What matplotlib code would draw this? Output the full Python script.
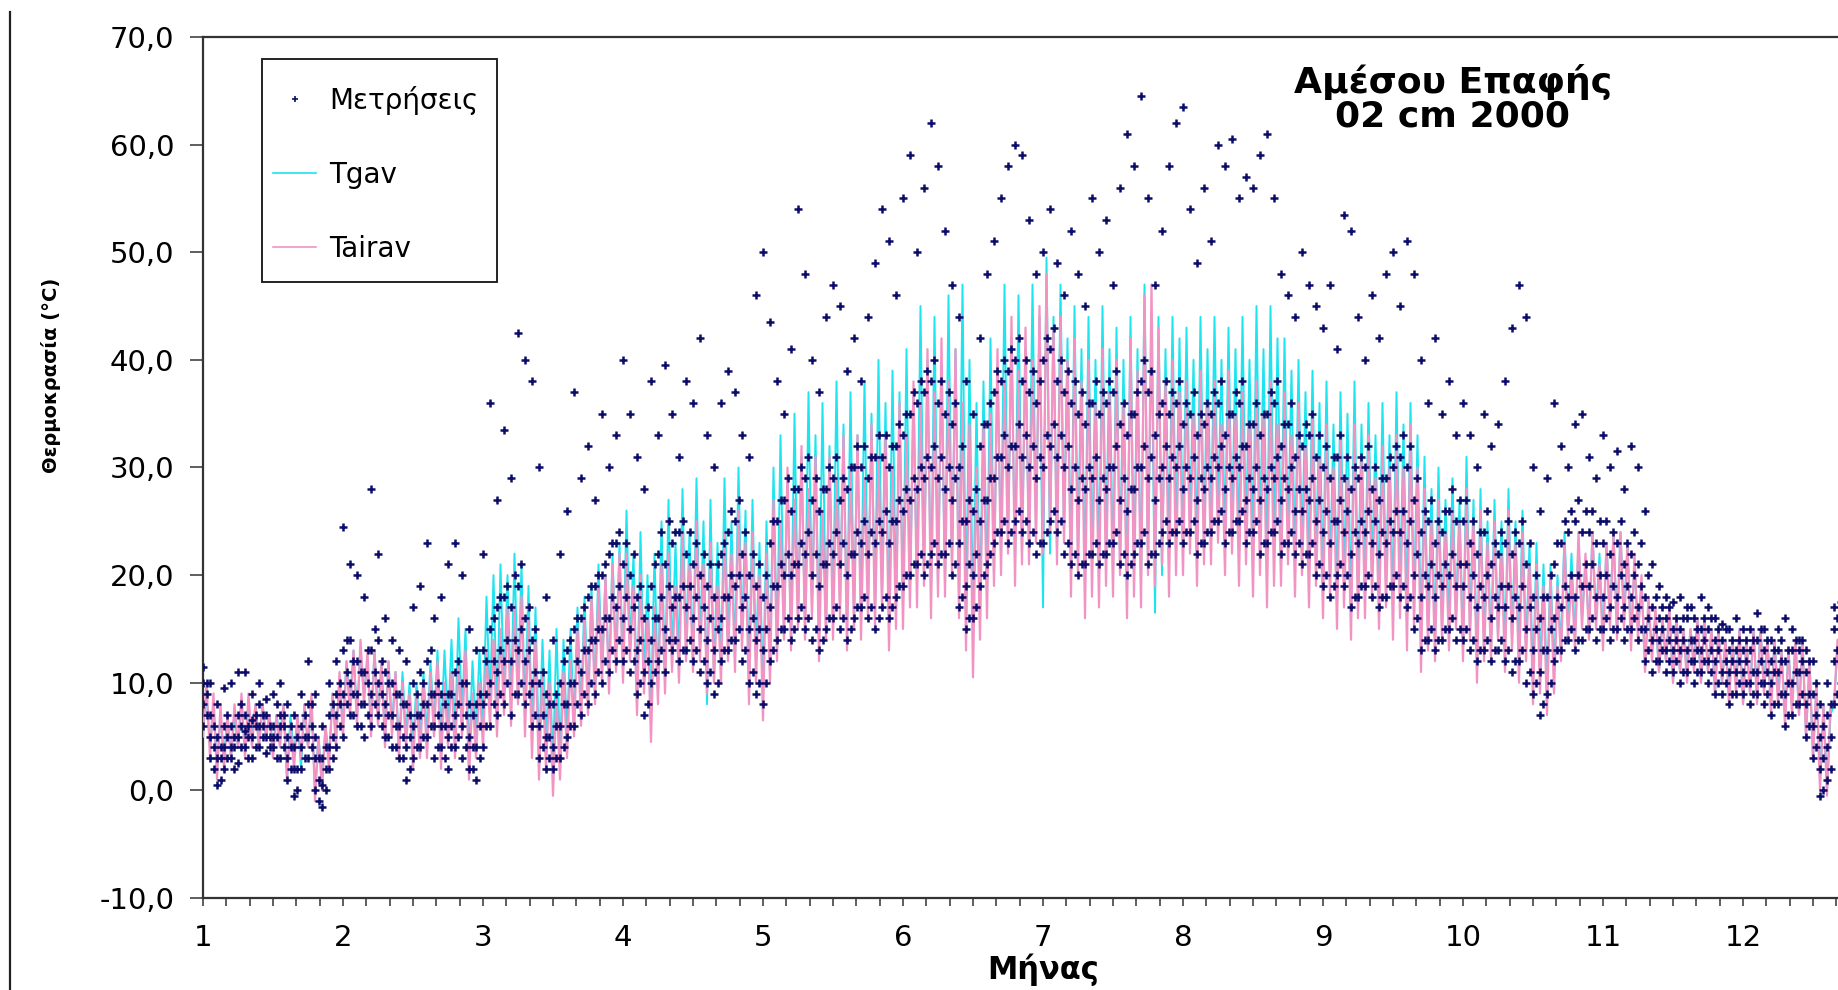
import numpy as np
import matplotlib.pyplot as plt
from matplotlib.ticker import MultipleLocator, FuncFormatter
from matplotlib.lines import Line2D
from matplotlib.patches import Rectangle

plt.rcParams['font.family'] = ['DejaVu Sans']

# ====== DATA ======
# Daily min / max, one pair every 0.05 month (1.00 ... 12.70)
tair_lo = [5, 3, 1, 2, 3, 4, 3, 4, 4, 5, 3, 4, 1, 2, 3, 4, -1, 0, 2, 4,
           5, 7, 6, 8, 5, 6, 4, 5, 3, 4, 2, 3, 3, 5, 2, 4, 3, 5, 1, 3,
           4, 6, 5, 7, 6, 8, 5, 3, 1, 2, -0.5, 1, 3, 5, 6, 7, 8, 10, 9, 11,
           10, 12, 7, 9, 4.5, 8, 9, 11, 10, 12, 11, 12, 9, 10, 10, 12, 11, 13, 8, 10,
           6.5, 10, 12, 14, 13, 15, 14, 16, 12, 14, 14, 16, 13, 15, 14, 16, 15, 17, 13, 15,
           15, 17, 17, 19, 16, 18, 18, 20, 16, 13, 10.5, 14, 16, 19, 20, 22, 19, 21, 21, 23,
           22, 24, 21, 23, 18, 20, 16, 18, 17, 19, 18, 20, 16, 18, 17, 20, 19, 21, 18, 20,
           20, 22, 19, 21, 21, 23, 20, 22, 19, 21, 18, 20, 17, 19, 19, 21, 18, 20, 17, 19,
           16, 18, 15, 17, 14, 16, 16, 18, 15, 17, 14, 16, 13, 15, 11, 13, 12, 14, 13, 15,
           12, 14, 10, 12, 12, 14, 11, 13, 10, 12, 8, 9, 7, 9, 12, 14, 13, 15, 14, 15,
           13, 15, 14, 15, 13, 14, 11, 12, 11, 12, 10, 11, 10, 11, 10, 11, 9, 10, 8, 9,
           8, 9, 8, 9, 7, 8, 6, 7, 7, 5, 3, 0, -0.5, 8, 11]
tair_hi = [10, 9, 8, 7, 8, 9, 9, 8, 8, 7, 7, 8, 6, 7, 8, 9, 5, 6, 9, 11,
           12, 13, 14, 13, 13, 12, 12, 11, 10, 9, 9, 10, 11, 12, 10, 11, 12, 13, 9, 10,
           13, 14, 15, 17, 17, 18, 16, 14, 11, 10, 9, 11, 12, 15, 16, 18, 19, 20, 21, 22,
           22, 19, 20, 16, 17, 21, 22, 19, 24, 21, 25, 21, 23, 19, 24, 22, 26, 23, 24, 20,
           22, 27, 25, 30, 27, 32, 28, 31, 26, 31, 29, 33, 30, 33, 29, 34, 31, 33, 30, 36,
           33, 38, 36, 41, 37, 42, 38, 41, 36, 34, 30, 34, 35, 41, 38, 44, 39, 43, 40, 45,
           48, 43, 44, 40, 42, 38, 40, 36, 41, 37, 40, 36, 42, 39, 46, 47, 43, 38, 40, 37,
           38, 35, 39, 36, 38, 34, 39, 35, 37, 34, 38, 35, 38, 34, 37, 33, 36, 32, 35, 31,
           34, 30, 33, 29, 34, 31, 33, 29, 32, 30, 33, 30, 34, 30, 28, 25, 27, 24, 26, 25,
           28, 25, 26, 23, 25, 22, 26, 23, 24, 21, 21, 19, 20, 19, 23, 20, 24, 22, 24, 21,
           23, 24, 24, 23, 22, 20, 18, 17, 16, 17, 16, 15, 15, 16, 16, 15, 15, 14, 14, 15,
           14, 15, 15, 14, 14, 13, 13, 14, 14, 12, 10, 8, 8, 14, 17]
tg_lo = [6, 4, 2, 3, 3, 4, 4, 5, 4, 5, 4, 5, 1, 3, 2, 4, 0, 1, 3, 5,
         6, 8, 7, 9, 6, 7, 5, 6, 4, 5, 4, 5, 5, 6, 5, 6, 5, 7, 3, 5,
         6, 8, 7, 9, 8, 9, 7, 5, 3, 4, 2, 3, 5, 6, 7, 8, 9, 11, 10, 12,
         11, 13, 8, 10, 7, 9, 10, 12, 12, 13, 12, 13, 8, 10, 11, 13, 12, 14, 10, 12,
         9, 11, 13, 15, 14, 16, 15, 17, 14, 15, 16, 17, 15, 16, 16, 17, 17, 18, 15, 17,
         17, 18, 19, 20, 18, 19, 19, 21, 18, 16, 15, 16, 18, 20, 22, 23, 21, 22, 22, 24,
         17, 22, 22, 24, 20, 22, 19, 21, 20, 22, 20, 21, 18, 20, 19, 21, 16.5, 20, 22, 23,
         23, 24, 22, 23, 24, 25, 23, 24, 22, 23, 22, 23, 21, 22, 22, 23, 21, 22, 20, 21,
         19, 20, 18, 19, 17, 18, 19, 20, 18, 19, 17, 18, 16, 17, 14, 15, 14, 15, 15, 16,
         13, 15, 11, 13, 13, 14, 13, 14, 12, 13, 10, 11, 9, 11, 13, 15, 14, 16, 15, 16,
         14, 16, 15, 16, 14, 15, 12, 13, 11, 12, 10, 11, 11, 12, 10, 11, 9, 10, 9, 10,
         8, 9, 9, 10, 8, 9, 7, 8, 7, 5, 3, 1, 0, 8, 11]
tg_hi = [9, 8, 7, 7, 7, 8, 8, 8, 8, 7, 7, 8, 7, 7, 8, 8, 5, 6, 9, 10,
         12, 13, 13, 12, 13, 12, 12, 11, 11, 10, 10, 11, 12, 13, 13, 14, 16, 15, 12, 13,
         18, 20, 21, 20, 22, 21, 19, 17, 14, 13, 15, 14, 15, 17, 18, 19, 21, 20, 22, 23,
         26, 22, 24, 20, 22, 25, 27, 23, 28, 24, 29, 25, 27, 23, 29, 25, 30, 26, 27, 23,
         25, 30, 33, 29, 35, 31, 37, 33, 36, 32, 38, 34, 37, 33, 38, 35, 40, 36, 39, 37,
         41, 37, 45, 40, 44, 39, 46, 41, 47, 40, 36, 38, 42, 39, 47, 42, 46, 41, 47, 44,
         49.5, 44, 47, 42, 45, 41, 44, 40, 45, 41, 43, 40, 44, 41, 47, 43, 44, 41, 44, 42,
         43, 40, 44, 41, 44, 40, 43, 41, 44, 40, 45, 41, 45, 42, 42, 39, 40, 37, 39, 36,
         38, 34, 37, 35, 38, 34, 36, 33, 36, 33, 37, 34, 36, 33, 31, 28, 30, 27, 29, 27,
         31, 27, 28, 25, 27, 25, 28, 25, 26, 23, 23, 21, 21, 20, 24, 22, 23, 21, 24, 22,
         23, 24, 24, 23, 21, 19, 17, 16, 16, 17, 16, 15, 15, 16, 16, 15, 15, 14, 14, 15,
         14, 15, 15, 14, 14, 13, 13, 14, 14, 12, 10, 8, 7, 13, 16]

# Measurements: one column of readings every 0.05 month (1.00 ... 12.70)
meas = [
    # month 1
    [6, 8, 10, 11.5], [3, 5, 7, 10], [0.5, 3, 5, 8], [2, 4, 6, 9.5], [3, 4, 6, 10],
    [2.5, 5, 7, 11], [4, 5.5, 7, 11], [3, 5, 6.5, 9], [4, 6, 8, 10], [3.5, 5, 7, 8.5],
    [4, 5, 6, 9], [3, 6, 7, 10], [1, 3, 5, 8], [-0.5, 2, 4, 7], [2, 4, 6, 9],
    [3, 5, 8, 12], [0, 3, 5, 9], [-1.5, 0.5, 3, 6], [2, 4, 7, 10], [4, 7, 9, 12],
    # month 2
    [5, 9, 13, 24.5], [7, 10, 14, 21], [6, 9, 12, 20], [5, 8, 11, 18], [6, 9, 13, 28],
    [7, 10, 14, 22], [5, 8, 11, 16], [4, 7, 10, 14], [3, 6, 9, 13], [1, 4, 8, 12],
    [3, 6, 10, 17], [4, 7, 11, 19], [5, 8, 12, 23], [3, 6, 9, 16], [4, 6, 9, 18],
    [2, 5, 9, 21], [4, 7, 11, 23], [3, 6, 10, 20], [2, 5, 8, 15], [1, 4, 8, 13],
    # month 3
    [4, 8, 13, 22], [6, 10, 15, 36], [7, 11, 17, 27], [8, 12, 18, 33.5], [7, 12, 17, 29],
    [9, 13, 19, 42.5], [8, 12, 16, 40], [6, 10, 14, 38], [3, 6, 10, 30], [2, 5, 9, 18],
    [2, 4, 8, 14], [3, 6, 10, 22], [5, 8, 13, 26], [6, 10, 15, 37], [7, 11, 16, 29],
    [8, 13, 18, 32], [9, 14, 19, 27], [10, 15, 20, 35], [11, 16, 22, 30], [12, 17, 23, 33],
    # month 4
    [12, 16, 21, 40], [11, 15, 20, 35], [9, 13, 18, 31], [7, 11, 16, 28], [10, 14, 19, 38],
    [12, 16, 22, 33], [11, 15, 21, 39.5], [13, 17, 23, 35], [12, 18, 24, 31], [13, 17, 22, 38],
    [12, 16, 21, 36], [11, 15, 20, 42], [10, 14, 19, 33], [9, 13, 18, 30], [12, 16, 22, 36],
    [13, 18, 24, 39], [14, 19, 25, 37], [12, 17, 22, 33], [10, 15, 20, 31], [9, 14, 19, 46],
    # month 5
    [8, 13, 18, 50], [12, 17, 23, 43.5], [14, 19, 25, 38], [15, 20, 27, 35], [14, 20, 26, 41],
    [16, 21, 28, 54], [15, 22, 29, 48], [14, 20, 27, 40], [13, 19, 26, 37], [15, 21, 28, 44],
    [16, 22, 29, 47], [15, 21, 27, 45], [14, 20, 28, 39], [16, 22, 30, 42], [17, 23, 30, 38],
    [16, 22, 29, 44], [15, 23, 31, 49], [17, 24, 31, 54], [16, 23, 30, 51], [18, 25, 32, 46],
    # month 6
    [19, 26, 33, 55], [20, 27, 35, 59], [21, 28, 36, 50], [20, 29, 37, 56], [22, 30, 38, 62],
    [21, 29, 36, 58], [22, 28, 35, 52], [20, 27, 34, 47], [17, 23, 30, 44], [15, 19, 25, 38],
    [16, 20, 26, 35], [19, 25, 32, 42], [21, 27, 34, 48], [23, 29, 37, 51], [24, 31, 38, 55],
    [23, 30, 39, 58], [25, 32, 40, 60], [24, 31, 38, 59], [23, 30, 37, 53], [22, 29, 36, 48],
    # month 7
    [23, 30, 40, 50], [25, 32, 41, 54], [24, 31, 38, 49], [22, 30, 37, 46], [21, 28, 36, 52],
    [20, 27, 35, 48], [21, 28, 34, 45], [22, 29, 36, 55], [21, 27, 35, 50], [22, 28, 36, 53],
    [23, 30, 37, 47], [21, 27, 34, 56], [20, 26, 33, 61], [22, 28, 35, 58], [23, 30, 38, 64.5],
    [21, 29, 37, 55], [22, 27, 33, 47], [24, 30, 36, 52], [23, 29, 35, 58], [24, 30, 36, 62],
    # month 8
    [23, 28, 34, 63.5], [24, 29, 35, 54], [22, 27, 33, 49], [23, 28, 34, 56], [24, 29, 35, 51],
    [25, 30, 36, 60], [23, 28, 33, 58], [24, 29, 35, 60.5], [25, 30, 36, 55], [23, 27, 32, 57],
    [24, 28, 34, 56], [22, 27, 33, 59], [23, 28, 35, 61], [24, 29, 36, 55], [22, 27, 32, 48],
    [23, 28, 34, 46], [22, 26, 31, 44], [21, 26, 32, 50], [22, 27, 33, 47], [20, 25, 31, 45],
    # month 9
    [19, 24, 30, 43], [18, 23, 29, 47], [20, 25, 31, 41], [19, 24, 29, 53.5], [17, 22, 28, 52],
    [18, 23, 29, 44], [19, 24, 30, 40], [18, 23, 28, 46], [17, 22, 27, 42], [18, 23, 29, 48],
    [19, 24, 30, 50], [18, 24, 31, 45], [17, 23, 30, 51], [15, 20, 27, 48], [13, 18, 24, 40],
    [14, 19, 25, 36], [13, 18, 23, 42], [14, 19, 24, 35], [15, 20, 26, 38], [14, 19, 25, 33],
    # month 10
    [14, 19, 25, 36], [13, 18, 23, 33], [12, 17, 22, 30], [13, 18, 24, 35], [12, 16, 21, 32],
    [13, 17, 22, 34], [12, 17, 23, 38], [11, 16, 22, 43], [12, 17, 23, 47], [10, 15, 21, 44],
    [9, 13, 18, 30], [7, 11, 16, 26], [9, 13, 18, 29], [12, 16, 21, 36], [13, 17, 23, 32],
    [14, 18, 24, 30], [13, 18, 25, 34], [14, 19, 24, 35], [15, 19, 24, 31], [14, 18, 23, 29],
    # month 11
    [15, 18, 23, 33], [14, 17, 22, 30], [15, 18, 23, 31.5], [14, 17, 21, 28], [15, 18, 22, 32],
    [14, 17, 21, 30], [12, 15, 18, 26], [11, 14, 17, 21], [12, 14, 16, 19], [11, 13, 16, 18],
    [11, 13, 15, 17.5], [10, 13, 15, 18], [11, 13, 16, 17], [10, 12, 14, 16], [11, 13, 15, 18],
    [10, 12, 15, 17], [9, 12, 14, 16], [9, 11, 14, 15.5], [8, 11, 13, 15], [9, 11, 13, 16],
    # month 12
    [9, 11, 13, 15], [8, 10, 13, 15], [9, 11, 14, 16.5], [8, 10, 13, 15], [7, 10, 12, 14],
    [8, 11, 13, 15], [6, 9, 12, 16], [7, 10, 13, 15], [8, 11, 13, 14], [5, 8, 11, 13],
    [3, 6, 9, 12], [-0.5, 2, 5, 8], [1, 4, 7, 10], [8, 12, 15, 17], [10, 13, 15, 17.5],
]

# Measurements taken half way between the columns above (1.025 ... 12.725)
meas_mid = [
    # month 1
    [7, 9, 10], [2, 4, 6], [1, 3, 4], [3, 5, 7], [2, 4, 5], [4, 6, 8], [3, 5, 6],
    [4, 6, 7], [5, 6, 7], [4, 5, 6], [3, 5, 8], [4, 6, 7], [2, 4, 6], [0, 2, 5],
    [3, 5, 7], [4, 6, 8], [-1, 1, 3], [0, 2, 4], [3, 5, 8], [6, 8, 10],
    # month 2
    [8, 11, 14], [7, 9, 12], [6, 8, 11], [7, 10, 13], [8, 11, 15], [6, 9, 12], [5, 7, 10],
    [4, 6, 9], [3, 5, 8], [2, 5, 7], [4, 7, 9], [5, 8, 10], [6, 9, 13], [4, 7, 10],
    [3, 6, 8], [4, 6, 9], [5, 8, 12], [4, 7, 10], [2, 4, 7], [3, 6, 9],
    # month 3
    [6, 9, 12], [8, 12, 16], [9, 13, 18], [10, 14, 19], [9, 14, 20], [10, 15, 21], [9, 13, 17],
    [7, 11, 15], [4, 7, 11], [3, 5, 8], [3, 6, 9], [4, 8, 12], [6, 10, 14], [8, 12, 16],
    [9, 13, 17], [10, 14, 19], [11, 15, 20], [12, 16, 21], [13, 18, 23], [14, 19, 24],
    # month 4
    [13, 18, 23], [12, 17, 22], [10, 14, 19], [8, 12, 17], [11, 16, 21], [13, 18, 24], [14, 19, 25],
    [14, 18, 24], [13, 19, 25], [14, 19, 24], [13, 18, 23], [12, 17, 22], [11, 16, 21], [10, 15, 21],
    [13, 18, 23], [14, 20, 26], [15, 20, 27], [13, 18, 24], [11, 16, 22], [10, 15, 21],
    # month 5
    [10, 15, 20], [13, 19, 25], [15, 21, 27], [16, 22, 29], [15, 21, 28], [17, 23, 30], [16, 24, 31],
    [15, 22, 29], [14, 21, 28], [16, 23, 30], [17, 24, 31], [16, 23, 29], [15, 22, 30], [17, 24, 32],
    [18, 25, 32], [17, 24, 31], [16, 25, 33], [18, 26, 33], [17, 25, 32], [19, 27, 34],
    # month 6
    [20, 28, 35], [21, 29, 37], [22, 30, 38], [21, 31, 39], [23, 32, 40], [22, 31, 38], [23, 30, 37],
    [21, 29, 36], [18, 25, 32], [16, 21, 27], [17, 22, 28], [20, 27, 34], [22, 29, 36], [24, 31, 39],
    [25, 33, 40], [24, 32, 41], [26, 34, 42], [25, 33, 40], [24, 32, 39], [23, 31, 38],
    # month 7
    [24, 33, 42], [26, 34, 43], [25, 33, 40], [23, 32, 39], [22, 30, 38], [21, 29, 37], [22, 30, 36],
    [23, 31, 38], [22, 29, 37], [23, 30, 38], [24, 32, 39], [22, 29, 36], [21, 28, 35], [23, 30, 37],
    [24, 32, 40], [22, 31, 39], [23, 29, 35], [25, 32, 38], [24, 31, 37], [25, 32, 38],
    # month 8
    [24, 30, 36], [25, 31, 37], [23, 29, 35], [24, 30, 36], [25, 31, 37], [26, 32, 38], [24, 30, 35],
    [25, 31, 37], [26, 32, 38], [24, 29, 34], [25, 30, 36], [23, 29, 35], [24, 30, 37], [25, 31, 38],
    [23, 29, 34], [24, 30, 36], [23, 28, 33], [22, 28, 34], [23, 29, 35], [21, 27, 33],
    # month 9
    [20, 26, 32], [19, 25, 31], [21, 27, 33], [20, 26, 31], [18, 24, 30], [19, 25, 31], [20, 26, 32],
    [19, 25, 30], [18, 24, 29], [19, 25, 31], [20, 26, 32], [19, 26, 33], [18, 25, 32], [16, 22, 29],
    [14, 20, 26], [15, 21, 27], [14, 20, 25], [15, 21, 26], [16, 22, 28], [15, 21, 27],
    # month 10
    [15, 21, 27], [14, 20, 25], [13, 19, 24], [14, 20, 26], [13, 18, 23], [14, 19, 24], [13, 19, 25],
    [12, 18, 24], [13, 19, 25], [11, 17, 23], [10, 15, 20], [8, 13, 18], [10, 15, 20], [13, 18, 23],
    [14, 19, 25], [15, 20, 26], [14, 20, 27], [15, 21, 26], [16, 21, 26], [15, 20, 25],
    # month 11
    [16, 20, 25], [15, 19, 24], [16, 20, 25], [15, 19, 23], [16, 20, 24], [15, 19, 23], [13, 16, 20],
    [12, 15, 18], [13, 15, 17], [12, 14, 17], [12, 14, 16], [11, 14, 16], [12, 14, 17], [11, 13, 15],
    [12, 14, 16], [11, 13, 16], [10, 13, 15], [10, 12, 15], [9, 12, 14], [10, 12, 14],
    # month 12
    [10, 12, 14], [9, 11, 14], [10, 12, 15], [9, 11, 14], [8, 11, 13], [9, 12, 14], [7, 10, 13],
    [8, 11, 14], [9, 12, 14], [6, 9, 12], [4, 7, 10], [0, 3, 6], [2, 5, 8], [9, 13, 16], [11, 14, 16],
]

y_ticks = [-10, 0, 10, 20, 30, 40, 50, 60, 70]
month_ticks = list(range(1, 13))

C_MEAS = '#0c0c6a'
C_TG = '#1de4ee'
C_AIR = '#f294c3'

# ====== helpers ======
STEP = 0.05
months_line = 1.0 + STEP * np.arange(len(tair_lo))
meas_x = 1.0 + STEP * np.arange(len(meas))
meas_mid_x = meas_x + STEP / 2


def daily_trace(x, lo, hi, step=STEP):
    # min at the start of each step, max half a step later
    xs = np.empty(2 * len(x))
    ys = np.empty(2 * len(x))
    xs[0::2] = x
    xs[1::2] = x + step / 2
    ys[0::2] = lo
    ys[1::2] = hi
    return xs, ys


def flatten(cols, xpos):
    xs = np.repeat(xpos, [len(c) for c in cols])
    ys = np.concatenate([np.asarray(c, dtype=float) for c in cols])
    return xs, ys


# ====== Plot ======
fig = plt.figure(figsize=(18.38, 9.90), dpi=100)
ax = fig.add_axes([203 / 1838, 92 / 990, 1680 / 1838, 861 / 990])

gx, gy = daily_trace(months_line, tg_lo, tg_hi)
ax.plot(gx, gy, color=C_TG, lw=1.4, zorder=2)
axx, axy = daily_trace(months_line, tair_lo, tair_hi)
ax.plot(axx, axy, color=C_AIR, lw=1.6, zorder=3)

m1x, m1y = flatten(meas, meas_x)
m2x, m2y = flatten(meas_mid, meas_mid_x)
mx = np.concatenate([m1x, m2x])
my = np.concatenate([m1y, m2y])
ax.plot(mx, my, ls='none', marker='+', ms=5.5, mew=1.8, color=C_MEAS, zorder=4)

ax.set_xlim(1, 13)
ax.set_ylim(-10, 70)
ax.set_yticks(y_ticks)
ax.yaxis.set_major_formatter(FuncFormatter(lambda v, p: f"{v:.1f}".replace('.', ',')))
ax.set_xticks(month_ticks)
ax.xaxis.set_minor_locator(MultipleLocator(1 / 6))

for side in ['left', 'bottom', 'top']:
    ax.spines[side].set_color('#333333')
    ax.spines[side].set_linewidth(1.6)
ax.spines['right'].set_visible(False)

ax.tick_params(axis='y', direction='out', length=9.5, width=1.1, color='#333333',
               labelsize=21, pad=11)
ax.tick_params(axis='x', which='both', direction='out', length=6, width=1.1,
               color='#333333', labelsize=21, pad=13)

ax.set_xlabel('Μήνας', fontsize=22, fontweight='bold', labelpad=1)
ax.set_ylabel('Θερμοκρασία (°C)', fontsize=14, fontweight='bold')
ax.yaxis.set_label_coords(-0.0845, 0.607)

ax.text(0.744, 0.9286, 'Αμέσου Επαφής\n02 cm 2000', transform=ax.transAxes,
        ha='center', va='center', fontsize=26, fontweight='bold', linespacing=0.98)

# legend: frame drawn as its own box, entries placed inside it
frame = Rectangle((262 / 1838, 1 - 282 / 990), 235 / 1838, 223 / 990,
                  transform=fig.transFigure, facecolor='white', edgecolor='#222222',
                  lw=1.4, zorder=5, clip_on=False)
ax.add_patch(frame)

handles = [
    Line2D([], [], ls='none', marker='+', ms=4, mew=1.2, color=C_MEAS),
    Line2D([], [], color=C_TG, lw=1.2),
    Line2D([], [], color=C_AIR, lw=1.2),
]
leg = ax.legend(handles, ['Μετρήσεις', 'Tgav', 'Tairav'], loc='upper left',
                bbox_to_anchor=(273 / 1838, 1 - 86 / 990), bbox_transform=fig.transFigure,
                fontsize=20, frameon=False, borderpad=0, labelspacing=1.65,
                handlelength=1.55, handletextpad=0.47, borderaxespad=0)
leg.set_zorder(6)

# thin frame line at the left edge
fig.add_artist(Line2D([10 / 1838, 10 / 1838], [0, 1 - 12 / 990], color='#222222', lw=1.6))

fig.savefig('out.png', dpi=100)
